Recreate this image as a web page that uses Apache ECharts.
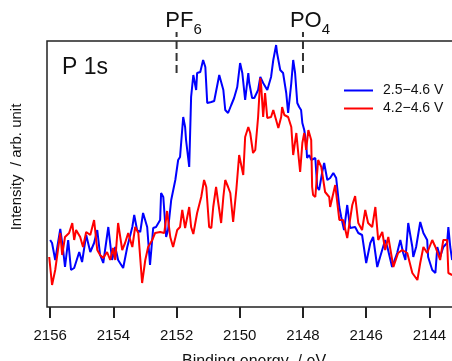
<!DOCTYPE html>
<html>
<head>
<meta charset="utf-8">
<script src="https://cdn.jsdelivr.net/npm/echarts@6.0.0/dist/echarts.min.js"></script>
<style>
html, body { margin: 0; padding: 0; background: #fff; }
#main { width: 452px; height: 361px; }
</style>
</head>
<body>
<div id="main"></div>
<script>
// P 1s XPS スペクトル
var seriesNames = ['2.5−4.6 V', '4.2−4.6 V'];
var tickValues = [2144, 2146, 2148, 2150, 2152, 2154, 2156];

// 2.5-4.6 V (blue)
var blueE = [2156.00, 2155.94, 2155.84, 2155.68, 2155.59, 2155.53, 2155.43, 2155.34, 2155.24, 2155.08,
  2154.99, 2154.86, 2154.73, 2154.61, 2154.51, 2154.42, 2154.32, 2154.16, 2154.04, 2153.94,
  2153.85, 2153.69, 2153.56, 2153.40, 2153.34, 2153.25, 2153.15, 2153.06, 2152.93, 2152.84,
  2152.74, 2152.65, 2152.52, 2152.49, 2152.42, 2152.33, 2152.27, 2152.17, 2152.04, 2151.95,
  2151.89, 2151.79, 2151.73, 2151.70, 2151.60, 2151.54, 2151.47, 2151.38, 2151.35, 2151.25,
  2151.22, 2151.16, 2151.09, 2151.03, 2150.90, 2150.81, 2150.75, 2150.68, 2150.65, 2150.59,
  2150.52, 2150.46, 2150.37, 2150.27, 2150.18, 2150.08, 2150.05, 2149.99, 2149.92, 2149.83,
  2149.73, 2149.70, 2149.61, 2149.54, 2149.42, 2149.35, 2149.29, 2149.26, 2149.20, 2149.13,
  2149.01, 2148.94, 2148.85, 2148.82, 2148.72, 2148.66, 2148.63, 2148.53, 2148.47, 2148.37,
  2148.31, 2148.25, 2148.18, 2148.12, 2148.06, 2148.02, 2147.96, 2147.90, 2147.87, 2147.80,
  2147.74, 2147.68, 2147.61, 2147.55, 2147.49, 2147.39, 2147.33, 2147.23, 2147.14, 2147.04,
  2146.95, 2146.85, 2146.79, 2146.70, 2146.60, 2146.51, 2146.35, 2146.25, 2146.13, 2146.00,
  2145.87, 2145.78, 2145.65, 2145.56, 2145.40, 2145.33, 2145.18, 2145.02, 2144.92, 2144.83,
  2144.76, 2144.67, 2144.54, 2144.51, 2144.42, 2144.29, 2144.19, 2144.07, 2144.04, 2143.91,
  2143.81, 2143.75, 2143.66, 2143.56, 2143.44, 2143.40, 2143.34, 2143.28];
var blueI = [67, 64, 47, 78, 57, 40, 67, 37, 39, 55,
  45, 72, 55, 64, 77, 52, 44, 80, 47, 60,
  47, 39, 60, 80, 92, 77, 75, 94, 80, 42,
  79, 80, 87, 114, 110, 70, 77, 107, 127, 147,
  150, 190, 180, 167, 140, 210, 232, 217, 234, 235,
  234, 247, 240, 204, 205, 206, 204, 227, 232, 230,
  217, 197, 194, 202, 209, 220, 219, 244, 234, 207,
  234, 224, 209, 209, 217, 230, 229, 224, 225, 217,
  230, 247, 262, 254, 237, 237, 234, 214, 194, 224,
  247, 234, 204, 200, 197, 184, 177, 164, 149, 152,
  147, 147, 149, 120, 117, 135, 144, 127, 129, 134,
  129, 100, 90, 77, 102, 79, 80, 74, 72, 44,
  64, 70, 40, 50, 67, 60, 40, 54, 67, 54,
  47, 84, 60, 50, 60, 85, 74, 67, 50, 37,
  34, 60, 50, 60, 64, 80, 60, 47];

// 4.2-4.6 V (red)
var redE = [2156.03, 2155.94, 2155.84, 2155.68, 2155.62, 2155.53, 2155.40, 2155.30, 2155.24, 2155.18,
  2155.05, 2154.96, 2154.86, 2154.73, 2154.61, 2154.51, 2154.42, 2154.32, 2154.20, 2154.10,
  2154.01, 2153.94, 2153.85, 2153.72, 2153.63, 2153.53, 2153.40, 2153.31, 2153.21, 2153.09,
  2152.99, 2152.90, 2152.77, 2152.68, 2152.52, 2152.39, 2152.30, 2152.20, 2152.11, 2151.98,
  2151.89, 2151.82, 2151.73, 2151.60, 2151.54, 2151.47, 2151.35, 2151.22, 2151.13, 2151.06,
  2150.97, 2150.90, 2150.84, 2150.75, 2150.68, 2150.59, 2150.52, 2150.46, 2150.37, 2150.30,
  2150.21, 2150.11, 2150.02, 2149.89, 2149.83, 2149.73, 2149.67, 2149.58, 2149.51, 2149.42,
  2149.35, 2149.32, 2149.26, 2149.20, 2149.13, 2149.01, 2148.94, 2148.85, 2148.78, 2148.69,
  2148.66, 2148.59, 2148.53, 2148.47, 2148.37, 2148.31, 2148.21, 2148.15, 2148.09, 2148.02,
  2147.96, 2147.90, 2147.83, 2147.74, 2147.71, 2147.68, 2147.61, 2147.52, 2147.42, 2147.30,
  2147.17, 2147.14, 2146.98, 2146.85, 2146.73, 2146.60, 2146.44, 2146.35, 2146.25, 2146.13,
  2146.03, 2145.94, 2145.81, 2145.71, 2145.62, 2145.49, 2145.40, 2145.30, 2145.14, 2144.99,
  2144.86, 2144.70, 2144.54, 2144.38, 2144.29, 2144.19, 2144.07, 2143.91, 2143.81, 2143.66,
  2143.56, 2143.44, 2143.40, 2143.28];
var redI = [50, 22, 37, 74, 52, 70, 74, 84, 67, 77,
  70, 60, 75, 72, 87, 57, 52, 49, 55, 47,
  59, 47, 84, 57, 64, 74, 60, 80, 74, 24,
  47, 60, 67, 74, 75, 74, 96, 70, 60, 77,
  80, 97, 79, 100, 80, 73, 94, 110, 127, 120,
  80, 79, 100, 120, 104, 84, 110, 127, 120, 114,
  85, 117, 152, 132, 170, 180, 174, 154, 157, 190,
  229, 220, 190, 214, 189, 190, 197, 187, 179, 190,
  200, 192, 194, 190, 180, 152, 174, 154, 135, 164,
  174, 157, 177, 167, 120, 112, 110, 147, 140, 115,
  110, 100, 122, 87, 87, 69, 102, 111, 84, 77,
  97, 84, 80, 100, 67, 75, 57, 70, 40, 54,
  57, 54, 34, 27, 44, 60, 54, 67, 60, 47,
  67, 67, 34, 32];

// 피크 위치 표시 (PF6, PO4)
var peakE = [2152, 2148];
var peakName = ['PF', 'PO'];
var peakSub = ['6', '4'];

function pairs(xs, ys) {
  return xs.map(function (x, i) { return [x, ys[i]]; });
}

var chart = echarts.init(document.getElementById('main'));

var markerSeries = peakE.map(function (e, i) {
  return {
    type: 'line',
    silent: true,
    clip: false,
    symbol: 'circle',
    symbolSize: 1,
    itemStyle: { color: 'rgba(0,0,0,0)' },
    lineStyle: { color: '#333', width: 2, type: [8, 4] },
    data: [
      [e, 234],
      {
        value: [e, 275],
        label: {
          show: true,
          position: 'top',
          distance: 0,
          offset: [7, 4],
          formatter: '{a|' + peakName[i] + '}{b|' + peakSub[i] + '}',
          rich: {
            a: { fontSize: 22, lineHeight: 26, verticalAlign: 'top', color: '#111', fontFamily: 'Liberation Sans' },
            b: { fontSize: 15, lineHeight: 15, padding: [13, 0, 0, 0], verticalAlign: 'top', color: '#111', fontFamily: 'Liberation Sans' }
          }
        }
      }
    ]
  };
});

option = {
  animation: false,
  grid: {
    left: 47,
    top: 41,
    bottom: 54,
    width: 414,
    outerBoundsMode: 'none',
    show: true,
    borderColor: '#222',
    borderWidth: 1.5
  },
  legend: {
    data: seriesNames,
    orient: 'vertical',
    left: 339,
    top: 78,
    icon: 'rect',
    itemWidth: 29,
    itemHeight: 2,
    itemGap: 3,
    textStyle: {
      fontSize: 14,
      lineHeight: 15,
      color: '#111',
      fontFamily: 'Liberation Sans',
      padding: [0, 0, 0, 5]
    }
  },
  xAxis: {
    type: 'value',
    inverse: true,
    min: 2143,
    max: 2156.1,
    name: 'Binding energy  / eV',
    nameLocation: 'middle',
    nameGap: 47,
    nameTextStyle: { fontSize: 16, color: '#111', fontFamily: 'Liberation Sans' },
    axisLine: { show: false },
    axisTick: {
      show: true,
      inside: false,
      length: 11,
      customValues: tickValues,
      lineStyle: { color: '#222', width: 2 }
    },
    axisLabel: {
      customValues: tickValues,
      formatter: function (v) { return String(v); },
      margin: 21,
      fontSize: 15,
      color: '#111',
      fontFamily: 'Liberation Sans'
    },
    splitLine: { show: false }
  },
  yAxis: {
    type: 'value',
    min: 0,
    max: 266,
    axisLine: { show: false },
    axisTick: { show: false },
    axisLabel: { show: false },
    splitLine: { show: false }
  },
  graphic: [
    {
      type: 'text',
      left: 62,
      top: 56,
      style: { text: 'P 1s', fontSize: 23, fill: '#111', fontFamily: 'Liberation Sans' }
    },
    {
      type: 'text',
      x: 17,
      y: 167,
      rotation: Math.PI / 2,
      style: {
        text: 'Intensity  / arb. unit',
        fontSize: 15,
        fill: '#111',
        fontFamily: 'Liberation Sans',
        textAlign: 'center',
        textVerticalAlign: 'middle'
      }
    }
  ],
  series: [
    {
      name: seriesNames[0],
      type: 'line',
      symbol: 'none',
      data: pairs(blueE, blueI),
      lineStyle: { color: '#0000ff', width: 2 },
      itemStyle: { color: '#0000ff' }
    },
    {
      name: seriesNames[1],
      type: 'line',
      symbol: 'none',
      data: pairs(redE, redI),
      lineStyle: { color: '#ff0000', width: 2 },
      itemStyle: { color: '#ff0000' }
    }
  ].concat(markerSeries)
};

chart.setOption(option);
</script>
</body>
</html>
